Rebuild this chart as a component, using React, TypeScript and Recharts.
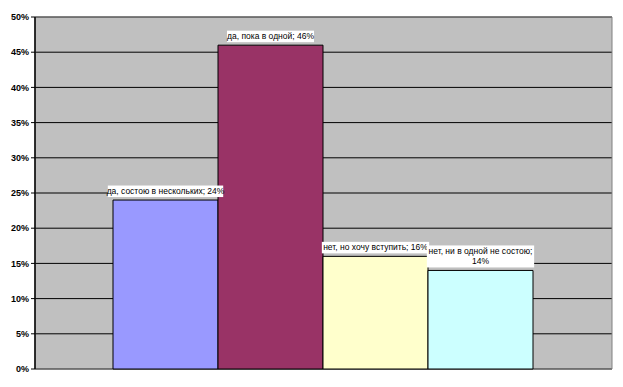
import React from "react";
import { BarChart, Bar, XAxis, YAxis, CartesianGrid, LabelList, ReferenceArea } from "recharts";

const categories = ["Ответ"];
const seriesNames = ["да, состою в нескольких", "да, пока в одной", "нет, но хочу вступить", "нет, ни в одной не состою"];
const seriesValues = [0.24, 0.46, 0.16, 0.14];
const seriesColors = ["#9999FF", "#993366", "#FFFFCC", "#CCFFFF"];
const yTicks = [0, 0.05, 0.1, 0.15, 0.2, 0.25, 0.3, 0.35, 0.4, 0.45, 0.5];
const labelLines = [
  ["да, состою в нескольких; 24%"],
  ["да, пока в одной; 46%"],
  ["нет, но хочу вступить; 16%"],
  ["нет, ни в одной не состою;", "14%"],
];

const data = categories.map((c) => {
  const row: any = { name: c };
  seriesValues.forEach((v, i) => (row["s" + i] = v));
  return row;
});

const FONT = "'Liberation Sans', Arial, sans-serif";

const makeLabel = (idx: number) => (props: any) => {
  const { x, y, width } = props;
  const lines = labelLines[idx];
  const fs = 8.5;
  const lh = 10.5;
  const maxLen = Math.max(...lines.map((l) => l.length));
  const boxW = maxLen * 4.05 + 2;
  const boxH = lines.length * lh + 1;
  const cx = x + width / 2;
  const bottom = y - 3;
  const top = bottom - boxH;
  return (
    <g>
      <rect x={cx - boxW / 2} y={top} width={boxW} height={boxH} fill="#FFFFFF" />
      {lines.map((l, i) => (
        <text
          key={i}
          x={cx}
          y={top + (i + 1) * lh - 2}
          textAnchor="middle"
          fontSize={fs}
          fontFamily={FONT}
          fill="#000"
        >
          {l}
        </text>
      ))}
    </g>
  );
};

export default function App() {
  return (
    <div style={{ position: "absolute", left: 0, top: 0, background: "#fff" }}>
      <BarChart
        width={623}
        height={387}
        data={data}
        margin={{ top: 17, right: 11, bottom: 18, left: 0 }}
        barGap={0}
        barCategoryGap={78}
      >
        <CartesianGrid vertical={false} stroke="#000" strokeWidth={1} fill="#C0C0C0" />
        <XAxis dataKey="name" hide />
        <YAxis
          width={35}
          domain={[0, 0.5]}
          ticks={yTicks}
          interval={0}
          tickFormatter={(v: number) => Math.round(v * 100) + "%"}
          tick={{ fontSize: 9, fontWeight: "bold", fill: "#000", fontFamily: FONT }}
          axisLine={{ stroke: "#000", strokeWidth: 1.5 }}
          tickLine={{ stroke: "#000" }}
          tickSize={4}
          tickMargin={2}
        />
        <ReferenceArea y1={0} y2={0.5} fill="none" stroke="#808080" strokeWidth={1} ifOverflow="visible" />
        {seriesNames.map((n, i) => (
          <Bar
            key={n}
            dataKey={"s" + i}
            name={n}
            fill={seriesColors[i]}
            stroke="#000"
            strokeWidth={1}
            isAnimationActive={false}
          >
            <LabelList dataKey={"s" + i} content={makeLabel(i)} />
          </Bar>
        ))}
      </BarChart>
    </div>
  );
}
